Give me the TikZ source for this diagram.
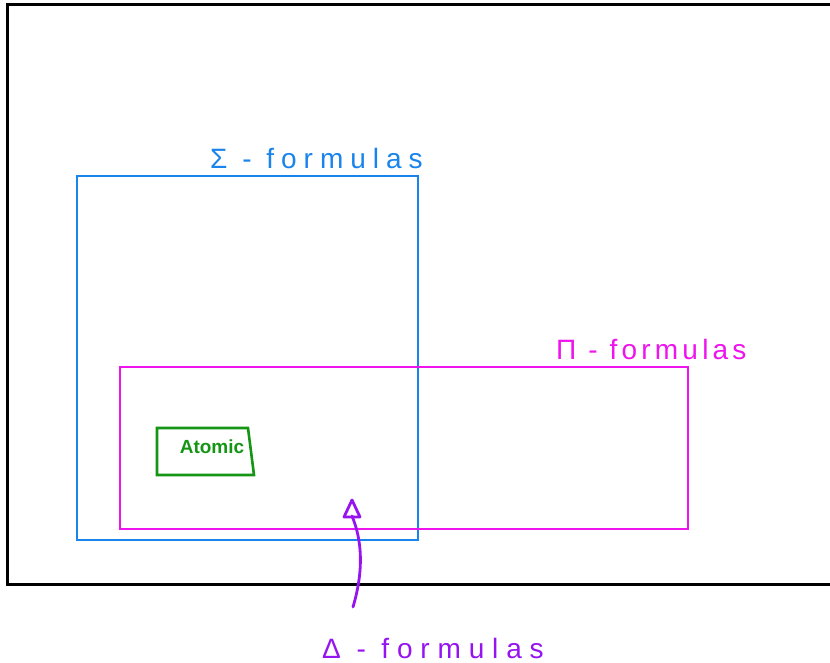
\documentclass[tikz,border=0pt]{standalone}
\usepackage{fontspec}
\setmainfont{Liberation Sans}
\definecolor{sigblue}{RGB}{25,132,235}
\definecolor{pimag}{RGB}{238,20,238}
\definecolor{atgreen}{RGB}{20,150,20}
\definecolor{delpurple}{RGB}{150,20,240}
\tikzset{
  region/.style={line width=2.6pt},
  hand/.style={font=\fontsize{28}{30}\selectfont\addfontfeature{LetterSpace=#1}, inner sep=0pt},
  hand/.default=14,
}
\begin{document}
\begin{tikzpicture}[x=1pt,y=-1pt]
  \useasboundingbox (0,0) rectangle (830,663);
  \fill[white] (0,0) rectangle (830,663);
  % universe of all formulas (open on the right)
  \draw[line width=3pt] (840,5) -- (7,5) -- (7,584) -- (840,584);
  % Sigma region
  \draw[region, sigblue] (77,176) rectangle (418,540);
  \node[hand=25, sigblue, anchor=west] (sig) at (210,158) {Σ - formulas};
  % Pi region
  \draw[region, pimag] (120,367) rectangle (688,529);
  \node[hand=15, pimag, anchor=west] (pi) at (556,349) {Π - formulas};
  % atomic formulas
  \draw[region, atgreen] (157,428) -- (248,428) -- (254,475) -- (157,475) -- cycle;
  \node[atgreen, font=\fontsize{19}{20}\selectfont\bfseries, inner sep=0pt] (at) at (212,447) {Atomic};
  % Delta label and pointer with an open triangular head
  \node[hand=28, delpurple, anchor=west] (del) at (322,648) {Δ - formulas};
  \coordinate (tip) at (352,500);
  \coordinate (base) at (352,516);
  \coordinate (tail) at (353,607);
  \draw[delpurple, line width=2.8pt, line cap=round]
    (tail) .. controls (364,570) and (362,540) .. (base);
  \draw[delpurple, line width=2.8pt, line join=round]
    (tip) -- (344,517) -- (360,517) -- cycle;
\end{tikzpicture}
\end{document}
